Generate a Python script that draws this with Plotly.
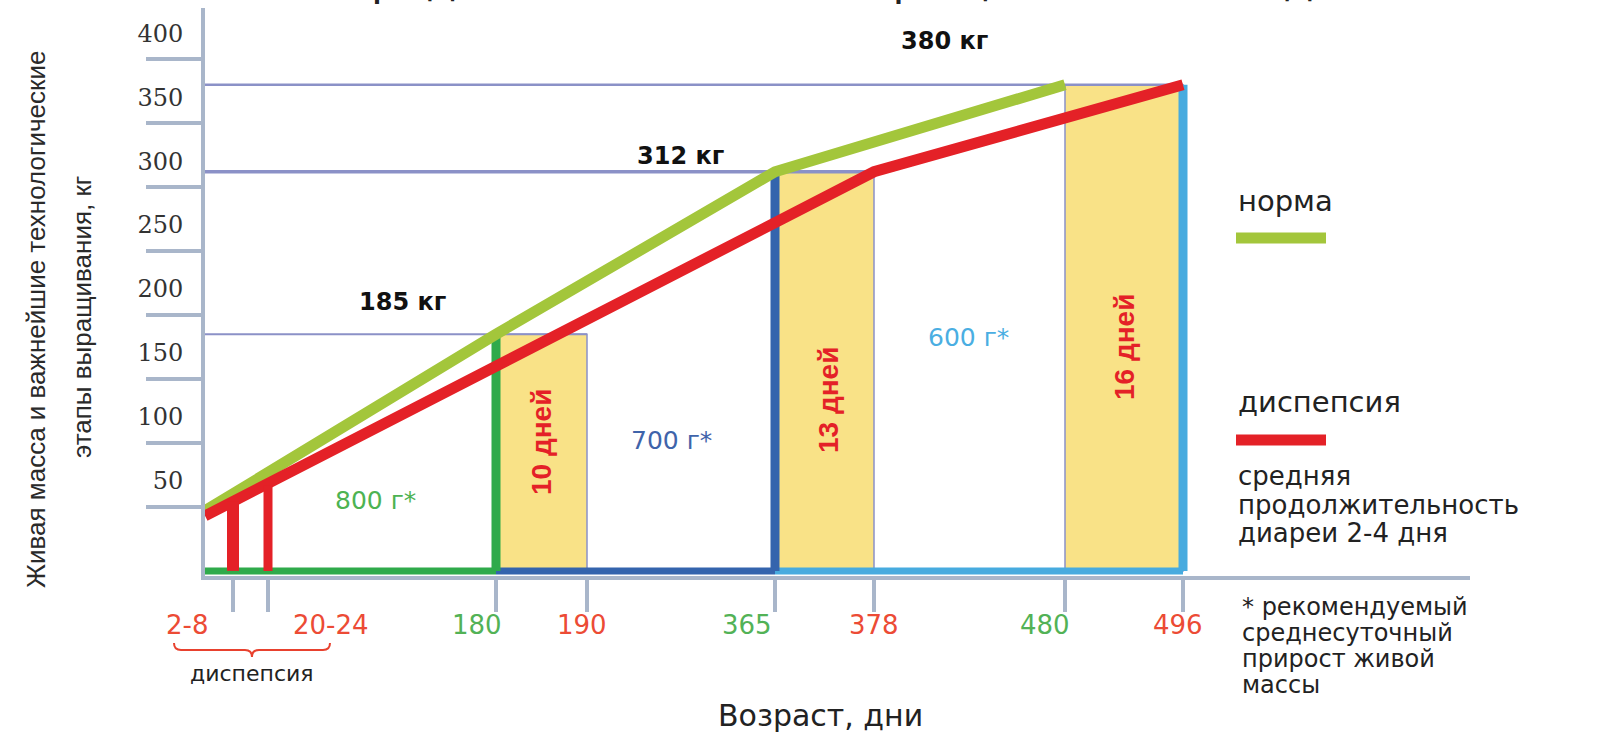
import plotly.graph_objects as go

# ---------------- data ----------------
# ages shown on the age axis (days) and which curve each belongs to
age_labels = ["2-8", "20-24", "180", "190", "365", "378", "480", "496"]
age_group = ["диспепсия", "диспепсия", "норма", "диспепсия", "норма", "диспепсия", "норма", "диспепсия"]

# live weight curves, kg
norma_age = ["0", "180", "365", "480"]
norma_kg = [47, 185, 312, 380]

disp_age = ["0", "378", "496"]
disp_kg = [43, 312, 380]

# diarrhoea episodes (days 2-8 and 20-24), height up to the dyspepsia curve
episode_age = ["2-8", "20-24"]
episode_kg = [54, 67]

# rearing stages and recommended daily gain
stage_from = ["0", "180", "365"]
stage_to = ["180", "365", "496"]
stage_gain = ["800 г*", "700 г*", "600 г*"]

# milestones: age reached with normal growth vs. after dyspepsia
milestone_norm = ["180", "365", "480"]
milestone_disp = ["190", "378", "496"]
milestone_kg = [185, 312, 380]

y_ticks = [50, 100, 150, 200, 250, 300, 350, 400]

# ---------------- layout helpers ----------------
W, H = 1602, 733
L, R, T, B = 205, 1470, 8, 576          # plot area in px
X_MAX = R - L
Y_RANGE = [-4, 440]

# the age axis is not to scale: horizontal slot for every age
AGE_POS = {"0": 0, "2-8": 28, "20-24": 63, "180": 291, "190": 382,
           "365": 570, "378": 669, "480": 860, "496": 978}


def pos(age):
    return AGE_POS[age]


def px(x):
    return (x - L) / (R - L)


def py(y):
    return (B - y) / (B - T)


GREEN_LINE = "#a3c63b"
RED = "#e42127"
STAGE_COLORS = ["#2faa4b", "#3464ad", "#47abdf"]
GAIN_COLORS = ["#4db352", "#3f64aa", "#4aaee2"]
YELLOW = "#f9e287"
LAVENDER = "#8b91c7"
AXIS = "#a9b6ca"
GROUP_COLORS = {"норма": "#52b256", "диспепсия": "#ec4b35"}
TEXT = "#222222"
SANS = "DejaVu Sans"
NARROW = "Liberation Sans, Arial, sans-serif"

fig = go.Figure()

# level lines from the weight axis to the delayed milestone
for a, kg, w in zip(milestone_disp, milestone_kg, [2, 3.5, 2.5]):
    fig.add_trace(go.Scatter(x=[0, pos(a)], y=[kg, kg], mode="lines",
                             line=dict(color=LAVENDER, width=w),
                             hoverinfo="skip", showlegend=False))

# baseline coloured by stage
for a0, a1, c in zip(stage_from, stage_to, STAGE_COLORS):
    fig.add_trace(go.Scatter(x=[pos(a0), pos(a1)], y=[0, 0], mode="lines",
                             line=dict(color=c, width=7),
                             hoverinfo="skip", showlegend=False))

# stage end markers up to the weight reached
stage_end_kg = dict(zip(milestone_norm[:2] + milestone_disp[2:], milestone_kg))
for a1, c in zip(stage_to, STAGE_COLORS):
    fig.add_trace(go.Scatter(x=[pos(a1), pos(a1)], y=[0, stage_end_kg[a1]], mode="lines",
                             line=dict(color=c, width=9),
                             hoverinfo="skip", showlegend=False))

# weight curves
fig.add_trace(go.Scatter(x=[pos(a) for a in norma_age], y=norma_kg, mode="lines",
                         name="норма", line=dict(color=GREEN_LINE, width=11),
                         showlegend=False))
fig.add_trace(go.Scatter(x=[pos(a) for a in disp_age], y=disp_kg, mode="lines",
                         name="диспепсия", line=dict(color=RED, width=11),
                         showlegend=False))

# diarrhoea episode bars
for a, kg, w in zip(episode_age, episode_kg, [12, 9]):
    fig.add_trace(go.Scatter(x=[pos(a), pos(a)], y=[0, kg], mode="lines",
                             line=dict(color=RED, width=w),
                             hoverinfo="skip", showlegend=False))

shapes = []
# delay bands between normal and delayed milestone
for a0, a1, kg in zip(milestone_norm, milestone_disp, milestone_kg):
    shapes.append(dict(type="rect", xref="x", yref="y", layer="below",
                       x0=pos(a0), x1=pos(a1), y0=0, y1=kg,
                       fillcolor=YELLOW, line=dict(color=LAVENDER, width=1.5)))

# legend swatches
shapes.append(dict(type="line", xref="paper", yref="paper",
                   x0=px(1236), x1=px(1326), y0=py(238), y1=py(238),
                   line=dict(color=GREEN_LINE, width=11)))
shapes.append(dict(type="line", xref="paper", yref="paper",
                   x0=px(1236), x1=px(1326), y0=py(440), y1=py(440),
                   line=dict(color=RED, width=11)))


# brace under the dyspepsia ages
def pt(x, y):
    return f"{px(x):.5f},{py(y):.5f}"


brace = (f"M {pt(174, 643)} Q {pt(174, 650)} {pt(181, 650)} L {pt(245, 650)} "
         f"Q {pt(252, 650)} {pt(252, 657)} Q {pt(252, 650)} {pt(259, 650)} "
         f"L {pt(323, 650)} Q {pt(330, 650)} {pt(330, 643)}")
shapes.append(dict(type="path", xref="paper", yref="paper", path=brace,
                   line=dict(color="#e8412e", width=2)))

ann = []


def text(x, y, s, size, color=TEXT, family=SANS, xanchor="center",
         yanchor="middle", angle=0, bold=False):
    ann.append(dict(x=px(x), y=py(y), xref="paper", yref="paper", text=s,
                    showarrow=False, xanchor=xanchor, yanchor=yanchor,
                    textangle=angle,
                    font=dict(family=family, size=size, color=color,
                              weight="bold" if bold else "normal")))


# title (runs off the top edge)
text(880, 7, "Продолжительность выращивания молодняка", 44, yanchor="bottom")

# weight axis title
text(36, 320, "Живая масса и важнейшие технологические", 26, color="#2a2a2a",
     family=NARROW, angle=-90)
text(82, 317, "этапы выращивания, кг", 26, color="#2a2a2a", family=NARROW, angle=-90)

# age tick labels
label_x = [187, 331, 477, 582, 747, 874, 1045, 1178]
for a, g, lx in zip(age_labels, age_group, label_x):
    text(lx, 625, a, 26, color=GROUP_COLORS[g])
text(252, 673, "диспепсия", 22)
text(820, 716, "Возраст, дни", 30)

# milestone weights
for kg, (lx, ly) in zip(milestone_kg, [(402, 302), (680, 156), (945, 41)]):
    text(lx, ly, f"{kg} кг", 24, color="#111111", bold=True)

# recommended daily gains
for g, c, (lx, ly) in zip(stage_gain, GAIN_COLORS, [(375, 500), (671, 440), (969, 337)]):
    text(lx, ly, g, 25, color=c)

# delay durations
for a0, a1, (lx, ly) in zip(milestone_norm, milestone_disp,
                            [(541, 442), (828, 400), (1124, 347)]):
    text(lx, ly, f"{int(a1) - int(a0)} дней", 28, color=RED, family=NARROW,
         angle=-90, bold=True)

# legend texts
text(1236, 201, "норма", 29, xanchor="left")
text(1236, 402, "диспепсия", 29, xanchor="left")
for s, y in zip(["средняя", "продолжительность", "диареи 2-4 дня"], [476, 505, 533]):
    text(1236, y, s, 26, xanchor="left")
for s, y in zip(["* рекомендуемый", "среднесуточный", "прирост живой", "массы"],
                [607, 633, 659, 685]):
    text(1240, y, s, 24, xanchor="left")

fig.update_layout(
    width=W, height=H,
    margin=dict(l=L, r=W - R, t=T, b=H - B, pad=0),
    paper_bgcolor="white", plot_bgcolor="white",
    shapes=shapes, annotations=ann,
    xaxis=dict(range=[0, X_MAX], showgrid=False, zeroline=False,
               showline=True, linecolor=AXIS, linewidth=4,
               tickvals=[pos(a) for a in age_labels], ticktext=age_labels,
               showticklabels=False, ticks="outside", ticklen=32, tickwidth=4,
               tickcolor=AXIS, layer="below traces", fixedrange=True),
    yaxis=dict(range=Y_RANGE, showgrid=False, zeroline=False,
               showline=True, linecolor=AXIS, linewidth=4,
               tickvals=y_ticks, ticks="outside", ticklen=55, tickwidth=4,
               tickcolor=AXIS, ticklabelshift=-26, ticklabelstandoff=-42,
               tickfont=dict(family="DejaVu Serif", size=24, color="#333333"),
               layer="below traces", fixedrange=True),
)

fig.write_html("out.html")
